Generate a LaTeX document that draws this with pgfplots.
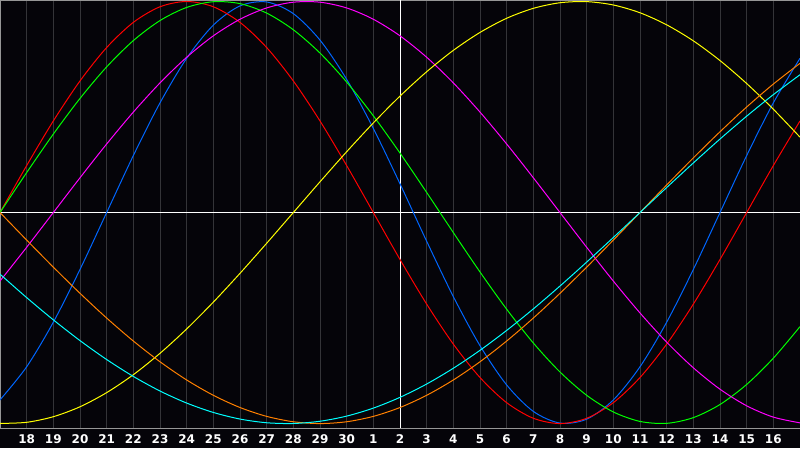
\documentclass[border=0pt]{standalone}
\usepackage{pgfplots}
\pgfplotsset{compat=1.18}
\usepackage{fontspec}
\setmainfont{DejaVu Sans}
\definecolor{bgc}{RGB}{5,4,9}
\definecolor{gridc}{RGB}{52,52,56}
\definecolor{framec}{RGB}{150,150,150}
\definecolor{cred}{RGB}{255,0,0}
\definecolor{cgreen}{RGB}{0,255,0}
\definecolor{cblue}{RGB}{0,102,255}
\definecolor{cmag}{RGB}{255,0,255}
\definecolor{cyel}{RGB}{255,255,0}
\definecolor{ccyan}{RGB}{0,255,255}
\definecolor{corange}{RGB}{255,128,0}
\begin{document}
\begin{tikzpicture}
\fill[bgc] (0pt,-20pt) rectangle (800pt,428pt);
\begin{axis}[
  at={(0pt,0pt)}, anchor=south west,
  width=800pt, height=428pt, scale only axis,
  xmin=0, xmax=30, ymin=-1.021, ymax=1.007,
  axis line style={framec, line width=1pt},
  xtick={1,...,29},
  xticklabels={18,19,20,21,22,23,24,25,26,27,28,29,30,1,2,3,4,5,6,7,8,9,10,11,12,13,14,15,16},
  ytick=\empty,
  major tick length=0pt,
  xmajorgrids,
  major grid style={gridc, line width=1pt},
  extra x ticks={15}, extra x tick labels={},
  extra x tick style={major grid style={white, line width=1pt}},
  extra y ticks={0}, extra y tick labels={},
  extra y tick style={ymajorgrids, major grid style={white, line width=1pt}},
  /pgf/number format/assume math mode=true,
  xticklabel style={font=\fontsize{12}{12}\selectfont\bfseries, text=white, anchor=base, yshift=-15.5pt},
  every axis plot/.append style={line width=1pt, smooth, no markers},
]
% physical 23
\addplot[cblue] coordinates {(0,-0.8880)(1,-0.7308)(2,-0.5196)(3,-0.2698)(4,0)(5,0.2698)(6,0.5196)(7,0.7308)(8,0.8880)(9,0.9791)(10,0.9977)(11,0.9423)(12,0.8170)(13,0.6310)(14,0.3984)(15,0.1362)(16,-0.1362)(17,-0.3984)(18,-0.6310)(19,-0.8170)(20,-0.9423)(21,-0.9977)(22,-0.9791)(23,-0.8880)(24,-0.7308)(25,-0.5196)(26,-0.2698)(27,0)(28,0.2698)(29,0.5196)(30,0.7308)};
% emotional 28
\addplot[cred] coordinates {(0,0)(1,0.2225)(2,0.4339)(3,0.6235)(4,0.7818)(5,0.9010)(6,0.9749)(7,1)(8,0.9749)(9,0.9010)(10,0.7818)(11,0.6235)(12,0.4339)(13,0.2225)(14,0)(15,-0.2225)(16,-0.4339)(17,-0.6235)(18,-0.7818)(19,-0.9010)(20,-0.9749)(21,-1)(22,-0.9749)(23,-0.9010)(24,-0.7818)(25,-0.6235)(26,-0.4339)(27,-0.2225)(28,0)(29,0.2225)(30,0.4339)};
% intellectual 33
\addplot[cgreen] coordinates {(0,0)(1,0.1893)(2,0.3717)(3,0.5406)(4,0.6901)(5,0.8146)(6,0.9096)(7,0.9718)(8,0.9989)(9,0.9898)(10,0.9450)(11,0.8660)(12,0.7557)(13,0.6182)(14,0.4582)(15,0.2817)(16,0.0951)(17,-0.0951)(18,-0.2817)(19,-0.4582)(20,-0.6182)(21,-0.7557)(22,-0.8660)(23,-0.9450)(24,-0.9898)(25,-0.9989)(26,-0.9718)(27,-0.9096)(28,-0.8146)(29,-0.6901)(30,-0.5406)};
% intuitive 38
\addplot[cmag] coordinates {(0,-0.3247)(1,-0.1646)(2,0)(3,0.1646)(4,0.3247)(5,0.4759)(6,0.6142)(7,0.7357)(8,0.8372)(9,0.9158)(10,0.9694)(11,0.9966)(12,0.9966)(13,0.9694)(14,0.9158)(15,0.8372)(16,0.7357)(17,0.6142)(18,0.4759)(19,0.3247)(20,0.1646)(21,0)(22,-0.1646)(23,-0.3247)(24,-0.4759)(25,-0.6142)(26,-0.7357)(27,-0.8372)(28,-0.9158)(29,-0.9694)(30,-0.9966)};
% aesthetic 43
\addplot[cyel] coordinates {(0,-0.9993)(1,-0.9940)(2,-0.9675)(3,-0.9204)(4,-0.8533)(5,-0.7684)(6,-0.6671)(7,-0.5517)(8,-0.4245)(9,-0.2881)(10,-0.1456)(11,0)(12,0.1456)(13,0.2881)(14,0.4245)(15,0.5517)(16,0.6671)(17,0.7684)(18,0.8533)(19,0.9204)(20,0.9675)(21,0.9940)(22,0.9993)(23,0.9834)(24,0.9465)(25,0.8894)(26,0.8135)(27,0.7200)(28,0.6112)(29,0.4894)(30,0.3572)};
% awareness 48
\addplot[corange] coordinates {(0,0)(1,-0.1305)(2,-0.2588)(3,-0.3827)(4,-0.5)(5,-0.6088)(6,-0.7071)(7,-0.7934)(8,-0.8660)(9,-0.9239)(10,-0.9659)(11,-0.9914)(12,-1)(13,-0.9914)(14,-0.9659)(15,-0.9239)(16,-0.8660)(17,-0.7934)(18,-0.7071)(19,-0.6088)(20,-0.5)(21,-0.3827)(22,-0.2588)(23,-0.1305)(24,0)(25,0.1305)(26,0.2588)(27,0.3827)(28,0.5)(29,0.6088)(30,0.7071)};
% spiritual 53
\addplot[ccyan] coordinates {(0,-0.2920)(1,-0.4031)(2,-0.5085)(3,-0.6068)(4,-0.6966)(5,-0.7766)(6,-0.8457)(7,-0.9028)(8,-0.9473)(9,-0.9786)(10,-0.9961)(11,-0.9996)(12,-0.9890)(13,-0.9646)(14,-0.9267)(15,-0.8757)(16,-0.8126)(17,-0.7378)(18,-0.6529)(19,-0.5586)(20,-0.4566)(21,-0.3482)(22,-0.2349)(23,-0.1183)(24,0)(25,0.1183)(26,0.2349)(27,0.3482)(28,0.4566)(29,0.5586)(30,0.6529)};
\end{axis}
\pgfresetboundingbox
\path (0pt,-20pt) rectangle (800pt,428pt);
\end{tikzpicture}
\end{document}
